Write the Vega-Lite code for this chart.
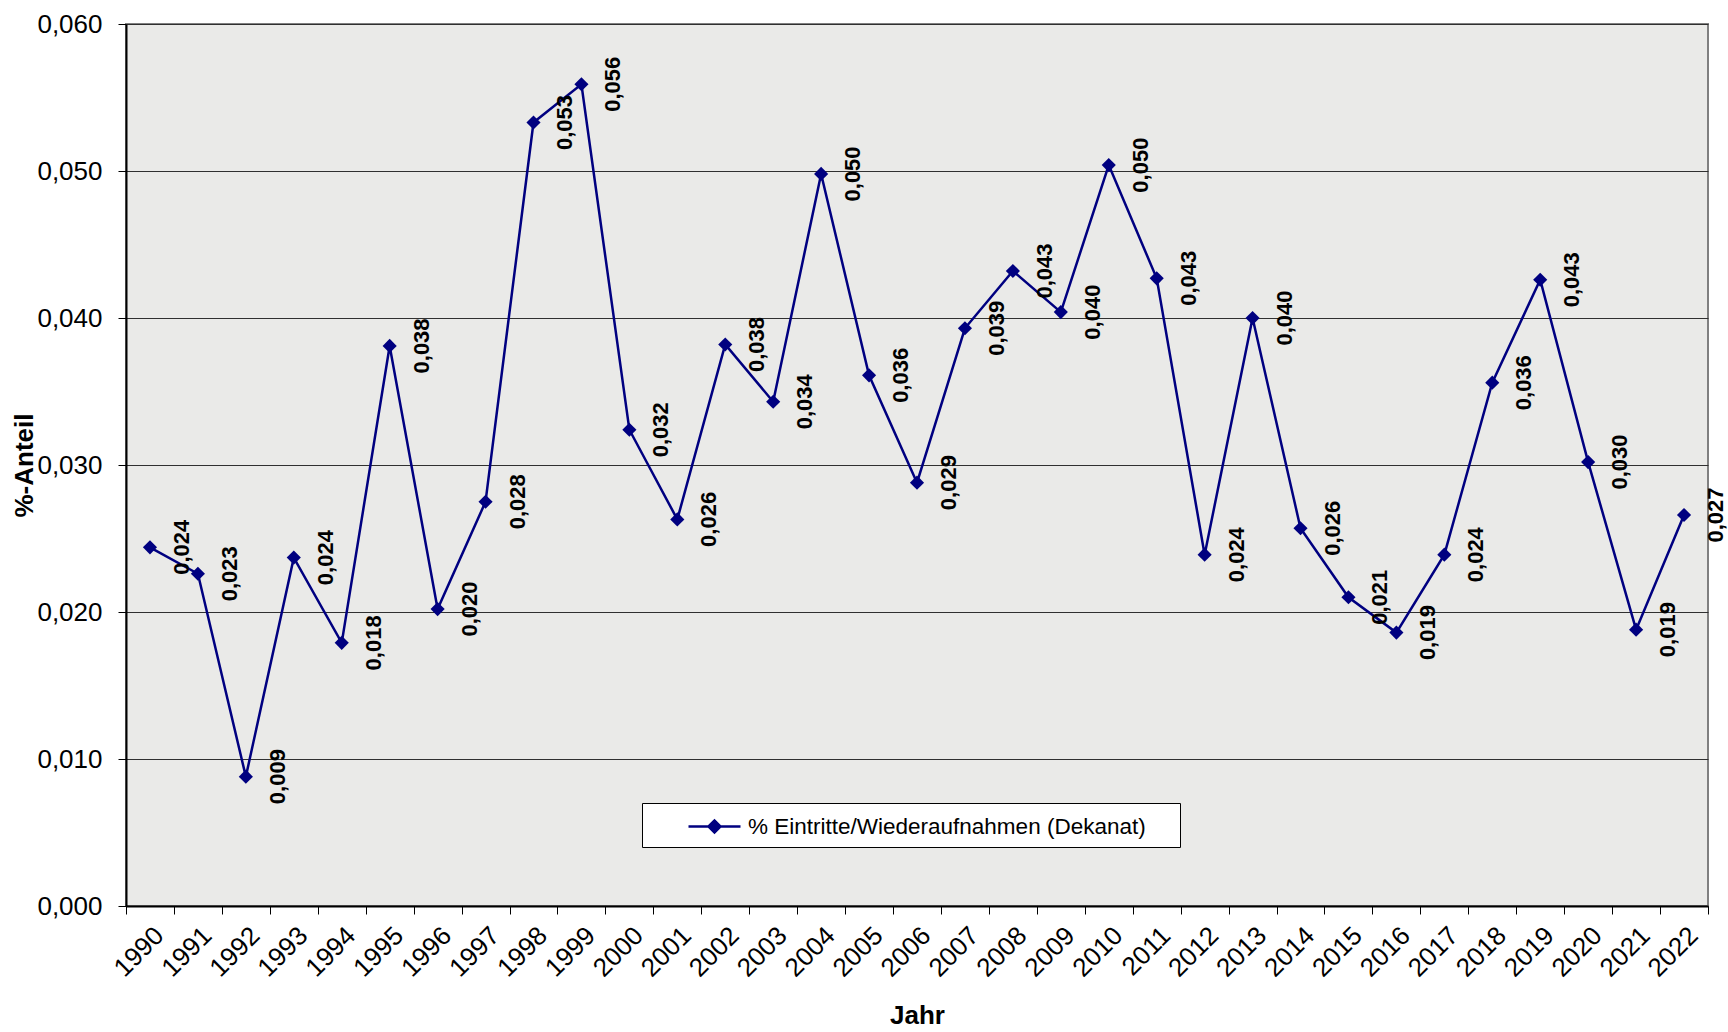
{
  "$schema": "https://vega.github.io/schema/vega-lite/v6.json",
  "width": 1582,
  "height": 882,
  "autosize": "none",
  "padding": {"left": 126, "top": 24, "right": 20, "bottom": 126},
  "background": "white",
  "config": {
    "font": "Liberation Sans",
    "locale": {"number": {"decimal": ",", "thousands": ".", "grouping": [3], "currency": ["", " €"]}},
    "view": {"fill": "#eaeae8", "stroke": "#808080", "strokeWidth": 2}
  },
  "data": {
    "values": [
      {"Jahr": "1990", "Wert": 0.0244},
      {"Jahr": "1991", "Wert": 0.0226},
      {"Jahr": "1992", "Wert": 0.0088},
      {"Jahr": "1993", "Wert": 0.0237},
      {"Jahr": "1994", "Wert": 0.0179},
      {"Jahr": "1995", "Wert": 0.0381},
      {"Jahr": "1996", "Wert": 0.0202},
      {"Jahr": "1997", "Wert": 0.0275},
      {"Jahr": "1998", "Wert": 0.0533},
      {"Jahr": "1999", "Wert": 0.0559},
      {"Jahr": "2000", "Wert": 0.0324},
      {"Jahr": "2001", "Wert": 0.0263},
      {"Jahr": "2002", "Wert": 0.0382},
      {"Jahr": "2003", "Wert": 0.0343},
      {"Jahr": "2004", "Wert": 0.0498},
      {"Jahr": "2005", "Wert": 0.0361},
      {"Jahr": "2006", "Wert": 0.0288},
      {"Jahr": "2007", "Wert": 0.0393},
      {"Jahr": "2008", "Wert": 0.0432},
      {"Jahr": "2009", "Wert": 0.0404},
      {"Jahr": "2010", "Wert": 0.0504},
      {"Jahr": "2011", "Wert": 0.0427},
      {"Jahr": "2012", "Wert": 0.0239},
      {"Jahr": "2013", "Wert": 0.0400},
      {"Jahr": "2014", "Wert": 0.0257},
      {"Jahr": "2015", "Wert": 0.0210},
      {"Jahr": "2016", "Wert": 0.0186},
      {"Jahr": "2017", "Wert": 0.0239},
      {"Jahr": "2018", "Wert": 0.0356},
      {"Jahr": "2019", "Wert": 0.0426},
      {"Jahr": "2020", "Wert": 0.0302},
      {"Jahr": "2021", "Wert": 0.0188},
      {"Jahr": "2022", "Wert": 0.0266}
    ]
  },
  "encoding": {
    "x": {
      "field": "Jahr",
      "type": "ordinal",
      "scale": {"paddingInner": 0, "paddingOuter": 0},
      "axis": {
        "title": "Jahr",
        "titleFont": "Liberation Sans",
        "titleFontSize": 26,
        "titleFontWeight": "bold",
        "titleColor": "black",
        "titlePadding": 21,
        "labelFont": "Liberation Sans",
        "labelFontSize": 26,
        "labelColor": "black",
        "labelAngle": -45,
        "labelPadding": 8,
        "tickBand": "extent",
        "tickSize": 8,
        "tickColor": "black",
        "domainColor": "black",
        "domainWidth": 2,
        "grid": false
      }
    },
    "y": {
      "field": "Wert",
      "type": "quantitative",
      "scale": {"domain": [0, 0.06], "nice": false},
      "axis": {
        "title": "%-Anteil",
        "titleFont": "Liberation Sans",
        "titleFontSize": 26,
        "titleFontWeight": "bold",
        "titleColor": "black",
        "titlePadding": -1,
        "values": [0, 0.01, 0.02, 0.03, 0.04, 0.05, 0.06],
        "format": ".3f",
        "labelFont": "Liberation Sans",
        "labelFontSize": 26,
        "labelColor": "black",
        "labelPadding": 16,
        "tickSize": 8,
        "tickColor": "black",
        "domainColor": "black",
        "domainWidth": 2,
        "grid": true,
        "gridColor": "#303030",
        "gridWidth": 1.2
      }
    }
  },
  "layer": [
    {
      "mark": {"type": "line", "strokeWidth": 2.5},
      "encoding": {
        "color": {
          "datum": "% Eintritte/Wiederaufnahmen (Dekanat)",
          "type": "nominal",
          "scale": {"range": ["#000080"]},
          "legend": {
            "title": "mmm",
            "titleOrient": "right",
            "titleColor": "rgba(0,0,0,0)",
            "titleFontSize": 9,
            "titlePadding": 0,
            "orient": "none",
            "legendX": 516,
            "legendY": 779,
            "padding": 9,
            "fillColor": "white",
            "strokeColor": "black",
            "symbolType": "M-2,0H2M-0.46,0L0,-0.46L0.46,0L0,0.46Z",
            "symbolSize": 676,
            "symbolStrokeWidth": 2.5,
            "symbolFillColor": "#000080",
            "symbolStrokeColor": "#000080",
            "symbolOffset": 49,
            "labelFont": "Liberation Sans",
            "labelFontSize": 22.5,
            "labelColor": "black",
            "labelOffset": 19,
            "labelLimit": 700
          }
        }
      }
    },
    {
      "mark": {"type": "point", "shape": "diamond", "filled": true, "size": 200, "color": "#000080", "opacity": 1}
    },
    {
      "mark": {"type": "text", "angle": 270, "align": "center", "baseline": "middle", "dy": 32, "font": "Liberation Sans", "fontSize": 22, "fontWeight": "bold", "color": "black"},
      "encoding": {
        "text": {"field": "Wert", "type": "quantitative", "format": ".3f"}
      }
    }
  ]
}
